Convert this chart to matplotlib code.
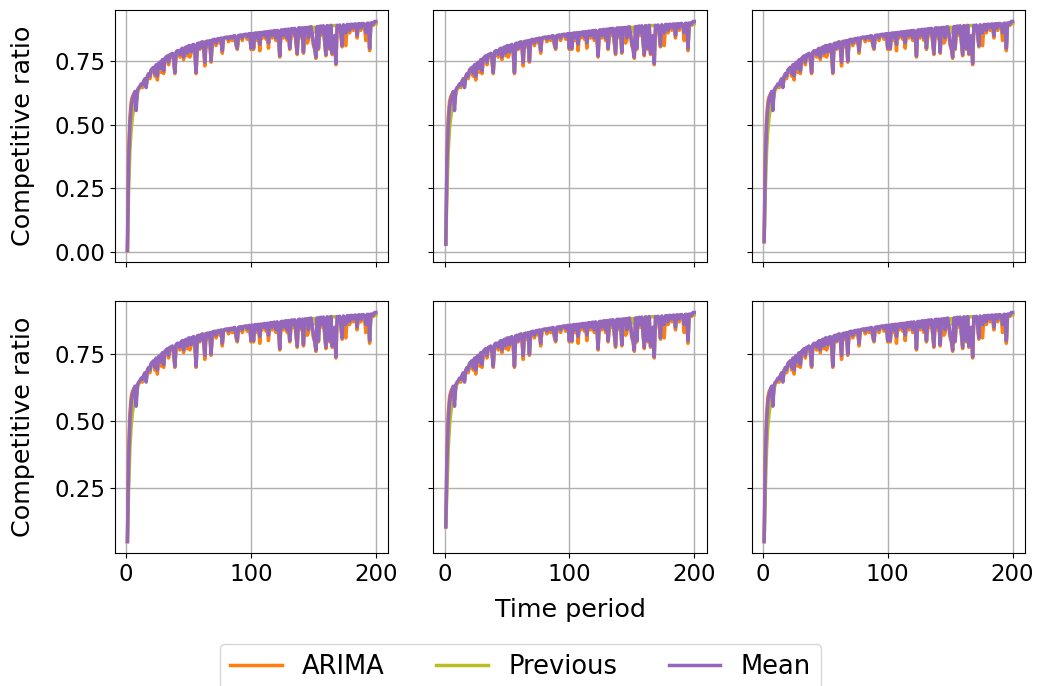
import numpy as np
import matplotlib
matplotlib.use("Agg")
import matplotlib.pyplot as plt

# time axis
t = np.arange(1, 201)

# competitive ratio per method (shared shape across panels)
arima = [
    0.005, 0.40, 0.53, 0.59, 0.61, 0.62, 0.625, 0.58, 0.63, 0.64,
    0.645, 0.655, 0.645, 0.665, 0.675, 0.655, 0.685, 0.695, 0.68, 0.71,
    0.715, 0.72, 0.69, 0.73, 0.675, 0.735, 0.74, 0.705, 0.75, 0.70,
    0.755, 0.76, 0.765, 0.735, 0.77, 0.77, 0.775, 0.75, 0.70, 0.78,
    0.785, 0.785, 0.765, 0.79, 0.795, 0.755, 0.795, 0.80, 0.77, 0.805,
    0.765, 0.78, 0.808, 0.81, 0.785, 0.70, 0.815, 0.815, 0.795, 0.818,
    0.82, 0.80, 0.73, 0.822, 0.824, 0.805, 0.826, 0.745, 0.828, 0.83,
    0.83, 0.81, 0.832, 0.834, 0.82, 0.836, 0.78, 0.836, 0.838, 0.84,
    0.84, 0.825, 0.842, 0.843, 0.83, 0.845, 0.846, 0.81, 0.795, 0.847,
    0.848, 0.849, 0.83, 0.85, 0.851, 0.852, 0.835, 0.853, 0.854, 0.795,
    0.855, 0.795, 0.856, 0.857, 0.83, 0.858, 0.79, 0.859, 0.84, 0.86,
    0.861, 0.835, 0.862, 0.80, 0.863, 0.864, 0.84, 0.865, 0.866, 0.83,
    0.867, 0.85, 0.765, 0.868, 0.869, 0.84, 0.87, 0.871, 0.83, 0.872,
    0.795, 0.84, 0.874, 0.85, 0.875, 0.82, 0.775, 0.876, 0.877, 0.84,
    0.877, 0.78, 0.878, 0.86, 0.82, 0.83, 0.88, 0.881, 0.85, 0.81,
    0.795, 0.76, 0.882, 0.795, 0.883, 0.884, 0.85, 0.885, 0.82, 0.77,
    0.886, 0.86, 0.795, 0.887, 0.775, 0.81, 0.84, 0.735, 0.887, 0.87,
    0.888, 0.85, 0.805, 0.889, 0.82, 0.81, 0.89, 0.89, 0.86, 0.891,
    0.891, 0.87, 0.892, 0.892, 0.84, 0.893, 0.893, 0.87, 0.894, 0.894,
    0.88, 0.83, 0.895, 0.895, 0.79, 0.896, 0.896, 0.89, 0.897, 0.897,
]
previous = [
    0.005, 0.25, 0.40, 0.48, 0.53, 0.56, 0.60, 0.59, 0.62, 0.64,
    0.648, 0.655, 0.652, 0.668, 0.678, 0.65, 0.688, 0.698, 0.688, 0.712,
    0.718, 0.722, 0.70, 0.732, 0.69, 0.738, 0.742, 0.718, 0.752, 0.712,
    0.758, 0.762, 0.768, 0.745, 0.772, 0.773, 0.778, 0.758, 0.71, 0.783,
    0.787, 0.788, 0.775, 0.792, 0.797, 0.765, 0.798, 0.803, 0.78, 0.807,
    0.808, 0.785, 0.81, 0.813, 0.79, 0.71, 0.816, 0.818, 0.805, 0.822,
    0.824, 0.824, 0.824, 0.825, 0.826, 0.815, 0.828, 0.755, 0.83, 0.832,
    0.833, 0.82, 0.834, 0.836, 0.83, 0.838, 0.79, 0.838, 0.84, 0.841,
    0.842, 0.835, 0.843, 0.844, 0.84, 0.846, 0.847, 0.82, 0.80, 0.848,
    0.849, 0.85, 0.84, 0.851, 0.852, 0.853, 0.845, 0.854, 0.855, 0.80,
    0.856, 0.80, 0.857, 0.858, 0.84, 0.859, 0.815, 0.86, 0.85, 0.861,
    0.862, 0.845, 0.863, 0.82, 0.864, 0.865, 0.85, 0.866, 0.867, 0.84,
    0.868, 0.86, 0.775, 0.869, 0.87, 0.85, 0.871, 0.872, 0.84, 0.873,
    0.80, 0.874, 0.875, 0.86, 0.876, 0.83, 0.785, 0.877, 0.878, 0.85,
    0.878, 0.79, 0.879, 0.87, 0.88, 0.84, 0.881, 0.882, 0.882, 0.882,
    0.882, 0.86, 0.883, 0.80, 0.884, 0.885, 0.86, 0.886, 0.83, 0.78,
    0.887, 0.887, 0.888, 0.888, 0.888, 0.889, 0.889, 0.889, 0.888, 0.88,
    0.889, 0.86, 0.81, 0.89, 0.88, 0.86, 0.891, 0.891, 0.87, 0.892,
    0.892, 0.88, 0.893, 0.893, 0.85, 0.894, 0.894, 0.88, 0.895, 0.895,
    0.89, 0.86, 0.896, 0.896, 0.80, 0.897, 0.897, 0.893, 0.898, 0.898,
]
mean = [
    0.005, 0.36, 0.50, 0.57, 0.60, 0.615, 0.63, 0.555, 0.635, 0.645,
    0.65, 0.66, 0.655, 0.67, 0.68, 0.645, 0.69, 0.70, 0.69, 0.715,
    0.72, 0.725, 0.70, 0.735, 0.69, 0.74, 0.745, 0.72, 0.755, 0.71,
    0.76, 0.765, 0.77, 0.745, 0.775, 0.775, 0.78, 0.76, 0.705, 0.785,
    0.79, 0.79, 0.775, 0.795, 0.80, 0.765, 0.80, 0.805, 0.78, 0.81,
    0.81, 0.785, 0.812, 0.815, 0.79, 0.705, 0.818, 0.82, 0.80, 0.822,
    0.825, 0.81, 0.745, 0.826, 0.828, 0.815, 0.83, 0.75, 0.832, 0.834,
    0.835, 0.82, 0.836, 0.838, 0.83, 0.84, 0.79, 0.84, 0.842, 0.843,
    0.844, 0.835, 0.845, 0.846, 0.84, 0.848, 0.849, 0.82, 0.80, 0.85,
    0.851, 0.852, 0.84, 0.853, 0.854, 0.855, 0.845, 0.856, 0.857, 0.80,
    0.858, 0.80, 0.859, 0.86, 0.84, 0.861, 0.815, 0.862, 0.85, 0.863,
    0.864, 0.845, 0.865, 0.82, 0.866, 0.867, 0.85, 0.868, 0.869, 0.84,
    0.87, 0.86, 0.77, 0.871, 0.872, 0.85, 0.873, 0.874, 0.84, 0.875,
    0.80, 0.876, 0.877, 0.86, 0.878, 0.83, 0.78, 0.879, 0.88, 0.85,
    0.88, 0.785, 0.881, 0.87, 0.882, 0.84, 0.883, 0.884, 0.86, 0.82,
    0.80, 0.765, 0.885, 0.80, 0.886, 0.887, 0.86, 0.888, 0.83, 0.775,
    0.889, 0.87, 0.80, 0.89, 0.78, 0.82, 0.85, 0.74, 0.89, 0.88,
    0.891, 0.86, 0.81, 0.892, 0.88, 0.86, 0.893, 0.893, 0.87, 0.894,
    0.894, 0.88, 0.895, 0.895, 0.85, 0.896, 0.896, 0.88, 0.897, 0.897,
    0.89, 0.86, 0.898, 0.898, 0.80, 0.899, 0.899, 0.895, 0.905, 0.905,
]

# first-period value differs per panel
start_vals = [[0.005, 0.03, 0.04],
              [0.05, 0.105, 0.05]]

labels = ["ARIMA", "Previous", "Mean"]
colors = ["#ff7f0e", "#bcbd22", "#9467bd"]

plt.rcParams["font.size"] = 16.5
plt.rcParams["axes.labelsize"] = 18.3
plt.rcParams["legend.fontsize"] = 18.5

fig, axes = plt.subplots(2, 3, figsize=(10.41, 6.86), dpi=100,
                         sharex=True, sharey="row")
fig.subplots_adjust(left=115/1041, right=1025/1041, top=1-10/686,
                    bottom=1-553/686, wspace=0.165, hspace=0.155)

for r in range(2):
    for c in range(3):
        ax = axes[r, c]
        for series, lab, col in zip([arima, previous, mean], labels, colors):
            y = np.array(series)
            y[0] = start_vals[r][c]
            ax.plot(t, y, color=col, lw=2.5, label=lab)
        ax.grid(True, color="#b0b0b0", lw=1)
        ax.set_axisbelow(True)
    axes[r, 0].set_ylabel("Competitive ratio", labelpad=14)

axes[0, 0].set_yticks([0.0, 0.25, 0.5, 0.75])
axes[1, 0].set_yticks([0.25, 0.5, 0.75])
axes[1, 1].set_xlabel("Time period", labelpad=9)
axes[1, 0].set_xticks([0, 100, 200])

handles, labs = axes[0, 0].get_legend_handles_labels()
fig.legend(handles, labs, loc="upper center", ncol=3,
           bbox_to_anchor=(0.5, 1-631/686))

fig.savefig("out.png", dpi=100)
